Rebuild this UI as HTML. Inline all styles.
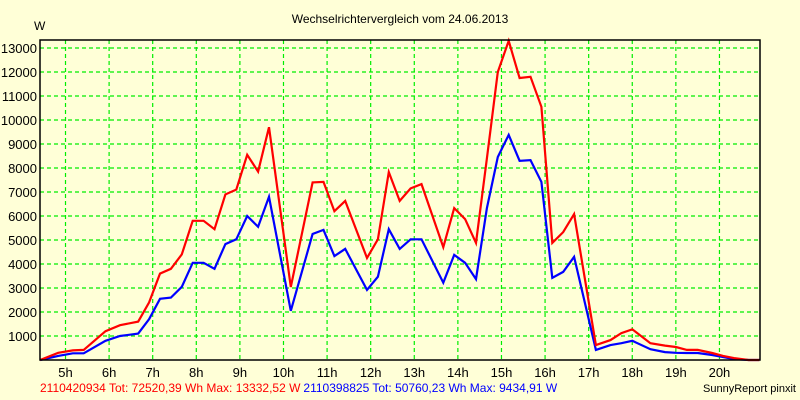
<!DOCTYPE html>
<html><head><meta charset="utf-8"><style>
body{margin:0;background:#ffffd7;}
svg{display:block;font-family:"Liberation Sans",sans-serif;}
</style></head><body>
<svg id="c" width="800" height="400">
<rect width="800" height="400" fill="#ffffd7"/>
<text x="400" y="23" font-size="12" text-anchor="middle">Wechselrichtervergleich vom 24.06.2013</text>
<text x="34" y="30" font-size="12">W</text>
<g id="grid"></g>
<g id="series"></g>
<rect x="40" y="40" width="720" height="320" fill="none" stroke="#000" stroke-width="1.5"/>
<text y="392" font-size="12"><tspan x="40" fill="#ff0000">2110420934 Tot: 72520,39 Wh Max: 13332,52 W</tspan><tspan fill="#0000ff" dx="3">2110398825 Tot: 50760,23 Wh Max: 9434,91 W</tspan></text>
<text x="796" y="392" font-size="11" text-anchor="end">SunnyReport pinxit</text>
</svg>
<script>
const times=["4:25","4:50","5:10","5:25","5:55","6:15","6:40","6:55","7:10","7:25","7:40","7:55","8:10","8:25","8:40","8:55","9:10","9:25","9:40","10:10","10:40","10:55","11:10","11:25","11:55","12:10","12:25","12:40","12:55","13:10","13:40","13:55","14:10","14:25","14:40","14:55","15:10","15:25","15:40","15:55","16:10","16:25","16:40","17:10","17:30","17:45","18:00","18:25","18:45","19:00","19:15","19:30","19:50","20:05","20:20","20:40","20:55"];
const redValues=[0,300,400,420,1200,1450,1600,2400,3600,3800,4400,5800,5800,5450,6900,7100,8550,7850,9700,3040,7400,7420,6200,6630,4250,5030,7830,6630,7150,7330,4700,6330,5870,4880,8400,12000,13300,11750,11800,10550,4880,5330,6080,620,830,1120,1280,700,600,540,420,420,290,170,80,0,0];
const blueValues=[0,170,280,280,800,1000,1100,1700,2550,2600,3050,4050,4050,3800,4830,5030,6000,5550,6800,2050,5250,5420,4330,4630,2920,3470,5450,4630,5030,5030,3220,4380,4050,3370,6330,8460,9380,8300,8330,7420,3420,3670,4300,420,620,700,800,450,330,300,290,290,210,120,40,0,0];
const yTicks=[1000,2000,3000,4000,5000,6000,7000,8000,9000,10000,11000,12000,13000];
const xTicks=[5,6,7,8,9,10,11,12,13,14,15,16,17,18,19,20];
const NS="http://www.w3.org/2000/svg";
const X0=40,X1=760,Y0=360,Y1=40,T0=4.415,T1=20.93,V1=13333;
function xs(t){return X0+(t-T0)/(T1-T0)*(X1-X0);}
function ys(v){return Y0-v/V1*(Y0-Y1);}
function hrs(s){const p=s.split(":");return +p[0]+p[1]/60;}
const grid=document.getElementById("grid"),svg=document.getElementById("c");
function mk(tag,attrs,parent){const e=document.createElementNS(NS,tag);for(const k in attrs)e.setAttribute(k,attrs[k]);parent.appendChild(e);return e;}
yTicks.forEach(v=>{
  const l=mk("line",{x1:X0,x2:X1,y1:ys(v),y2:ys(v),stroke:"#00ee00","stroke-dasharray":"4,3","stroke-width":1.2},grid);
  
  
  const t=mk("text",{x:37,y:ys(v)+5,"font-size":13,"text-anchor":"end"},svg);
  t.textContent=v;
  
  
});
xTicks.forEach(h=>{
  const l=mk("line",{x1:xs(h),x2:xs(h),y1:Y1,y2:Y0,stroke:"#00ee00","stroke-dasharray":"4,3","stroke-width":1.2},grid);
  
  
  const t=mk("text",{x:xs(h),y:377,"font-size":13,"text-anchor":"middle"},svg);
  t.textContent=h+"h";
  
  
});
const ser=document.getElementById("series");
function line(vals,color,name){
  const pts=vals.map((v,i)=>xs(hrs(times[i])).toFixed(1)+","+ys(v).toFixed(1)).join(" ");
  const p=mk("polyline",{points:pts,fill:"none",stroke:color,"stroke-width":2.2,"stroke-linejoin":"miter"},ser);
  
  
}
line(blueValues,"#0000ff","series-2110398825");
line(redValues,"#ff0000","series-2110420934");
</script>
</body></html>
